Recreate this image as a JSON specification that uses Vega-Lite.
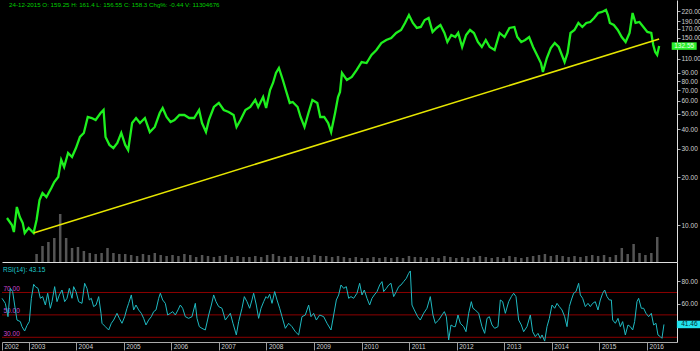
{
"$schema": "https://vega.github.io/schema/vega-lite/v6.json",
"background": "black",
"padding": 0,
"spacing": 0,
"config": {"view": {"stroke": null}, "font": "Liberation Sans", "axis": {"grid": false, "labelFont": "Liberation Sans", "labelFontSize": 6.5}},
"datasets": {
"price": [
{"t":2002.443,"close":11.06},{"t":2002.548,"close":10.0},{"t":2002.590,"close":9.04},{"t":2002.653,"close":12.97},{"t":2002.716,"close":11.22},{"t":2002.779,"close":10.29},{"t":2002.821,"close":8.91},{"t":2002.905,"close":9.58},{"t":2003.010,"close":8.91},{"t":2003.074,"close":10.75},{"t":2003.137,"close":14.35},{"t":2003.200,"close":15.88},{"t":2003.284,"close":14.98},{"t":2003.389,"close":17.07},{"t":2003.452,"close":18.61},{"t":2003.536,"close":20.0},{"t":2003.599,"close":25.6},{"t":2003.662,"close":23.1},{"t":2003.746,"close":28.3},{"t":2003.830,"close":26.7},{"t":2003.914,"close":30.4},{"t":2003.999,"close":35.7},{"t":2004.082,"close":37.8},{"t":2004.166,"close":47.6},{"t":2004.250,"close":46.9},{"t":2004.334,"close":45.6},{"t":2004.440,"close":50.4},{"t":2004.503,"close":52.7},{"t":2004.545,"close":35.7},{"t":2004.629,"close":31.8},{"t":2004.713,"close":30.4},{"t":2004.797,"close":32.7},{"t":2004.881,"close":37.8},{"t":2004.965,"close":31.8},{"t":2005.028,"close":29.5},{"t":2005.112,"close":43.6},{"t":2005.196,"close":46.9},{"t":2005.280,"close":43.6},{"t":2005.385,"close":46.9},{"t":2005.490,"close":38.3},{"t":2005.596,"close":41.2},{"t":2005.701,"close":50.4},{"t":2005.764,"close":54.2},{"t":2005.848,"close":47.6},{"t":2005.932,"close":44.3},{"t":2006.016,"close":45.6},{"t":2006.121,"close":49.0},{"t":2006.226,"close":49.0},{"t":2006.331,"close":46.9},{"t":2006.436,"close":46.9},{"t":2006.541,"close":52.7},{"t":2006.604,"close":43.6},{"t":2006.688,"close":38.3},{"t":2006.751,"close":45.6},{"t":2006.857,"close":55.0},{"t":2006.962,"close":58.3},{"t":2007.067,"close":52.7},{"t":2007.172,"close":51.2},{"t":2007.277,"close":49.0},{"t":2007.340,"close":41.2},{"t":2007.424,"close":45.6},{"t":2007.529,"close":52.7},{"t":2007.634,"close":55.0},{"t":2007.739,"close":60.9},{"t":2007.802,"close":55.0},{"t":2007.907,"close":63.5},{"t":2007.971,"close":54.2},{"t":2008.055,"close":70.3},{"t":2008.118,"close":77.8},{"t":2008.181,"close":89.9},{"t":2008.244,"close":96.6},{"t":2008.328,"close":81.2},{"t":2008.391,"close":70.3},{"t":2008.475,"close":58.3},{"t":2008.538,"close":59.1},{"t":2008.643,"close":55.0},{"t":2008.706,"close":47.6},{"t":2008.790,"close":41.2},{"t":2008.874,"close":50.4},{"t":2008.958,"close":60.9},{"t":2009.063,"close":58.3},{"t":2009.126,"close":47.6},{"t":2009.210,"close":47.6},{"t":2009.295,"close":43.6},{"t":2009.358,"close":38.3},{"t":2009.442,"close":50.4},{"t":2009.505,"close":63.5},{"t":2009.547,"close":68.3},{"t":2009.589,"close":89.9},{"t":2009.694,"close":81.2},{"t":2009.799,"close":84.8},{"t":2009.904,"close":93.9},{"t":2010.009,"close":105.3},{"t":2010.114,"close":103.8},{"t":2010.219,"close":116.6},{"t":2010.324,"close":125.3},{"t":2010.429,"close":138.6},{"t":2010.534,"close":144.7},{"t":2010.640,"close":149.0},{"t":2010.745,"close":160.2},{"t":2010.850,"close":167.3},{"t":2010.934,"close":185.1},{"t":2011.018,"close":207.7},{"t":2011.102,"close":185.1},{"t":2011.186,"close":172.2},{"t":2011.270,"close":174.7},{"t":2011.354,"close":193.2},{"t":2011.438,"close":198.9},{"t":2011.522,"close":162.5},{"t":2011.606,"close":172.2},{"t":2011.690,"close":179.8},{"t":2011.775,"close":160.2},{"t":2011.838,"close":140.7},{"t":2011.922,"close":155.6},{"t":2012.006,"close":151.1},{"t":2012.069,"close":160.2},{"t":2012.153,"close":130.8},{"t":2012.237,"close":155.6},{"t":2012.321,"close":167.3},{"t":2012.405,"close":160.2},{"t":2012.489,"close":140.7},{"t":2012.573,"close":130.8},{"t":2012.657,"close":144.7},{"t":2012.741,"close":130.8},{"t":2012.846,"close":125.3},{"t":2012.952,"close":160.2},{"t":2013.057,"close":151.1},{"t":2013.162,"close":172.2},{"t":2013.267,"close":174.7},{"t":2013.330,"close":151.1},{"t":2013.414,"close":140.7},{"t":2013.498,"close":144.7},{"t":2013.582,"close":151.1},{"t":2013.666,"close":130.8},{"t":2013.750,"close":116.6},{"t":2013.834,"close":103.8},{"t":2013.876,"close":91.2},{"t":2013.960,"close":111.6},{"t":2014.044,"close":129.0},{"t":2014.128,"close":138.6},{"t":2014.213,"close":130.8},{"t":2014.297,"close":113.2},{"t":2014.339,"close":105.3},{"t":2014.402,"close":120.0},{"t":2014.465,"close":160.2},{"t":2014.549,"close":167.3},{"t":2014.633,"close":185.1},{"t":2014.717,"close":174.7},{"t":2014.801,"close":185.1},{"t":2014.885,"close":187.7},{"t":2014.969,"close":198.9},{"t":2015.053,"close":213.8},{"t":2015.137,"close":216.9},{"t":2015.221,"close":223.3},{"t":2015.263,"close":207.7},{"t":2015.305,"close":185.1},{"t":2015.389,"close":179.8},{"t":2015.473,"close":167.3},{"t":2015.557,"close":151.1},{"t":2015.641,"close":140.7},{"t":2015.725,"close":160.2},{"t":2015.789,"close":213.8},{"t":2015.852,"close":185.1},{"t":2015.936,"close":187.7},{"t":2016.020,"close":174.7},{"t":2016.104,"close":162.5},{"t":2016.188,"close":160.2},{"t":2016.230,"close":134.7},{"t":2016.272,"close":121.7},{"t":2016.314,"close":116.6},{"t":2016.356,"close":132.55}
],
"trend": [{"t":2003.010,"close":8.91},{"t":2016.356,"close":146.9}],
"vol": [
{"t":2003.074,"vol":16},{"t":2003.200,"vol":32},{"t":2003.326,"vol":40},{"t":2003.452,"vol":48},{"t":2003.578,"vol":96},{"t":2003.705,"vol":48},{"t":2003.831,"vol":28},{"t":2003.957,"vol":30},{"t":2004.083,"vol":22},{"t":2004.209,"vol":18},{"t":2004.335,"vol":16},{"t":2004.461,"vol":18},{"t":2004.587,"vol":28},{"t":2004.713,"vol":18},{"t":2004.839,"vol":16},{"t":2004.965,"vol":16},{"t":2005.092,"vol":14},{"t":2005.218,"vol":12},{"t":2005.344,"vol":16},{"t":2005.470,"vol":14},{"t":2005.596,"vol":18},{"t":2005.722,"vol":14},{"t":2005.848,"vol":12},{"t":2005.974,"vol":14},{"t":2006.100,"vol":12},{"t":2006.227,"vol":16},{"t":2006.353,"vol":14},{"t":2006.479,"vol":10},{"t":2006.605,"vol":14},{"t":2006.731,"vol":12},{"t":2006.857,"vol":10},{"t":2006.983,"vol":12},{"t":2007.109,"vol":14},{"t":2007.235,"vol":10},{"t":2007.361,"vol":12},{"t":2007.488,"vol":10},{"t":2007.614,"vol":10},{"t":2007.740,"vol":12},{"t":2007.866,"vol":10},{"t":2007.992,"vol":14},{"t":2008.118,"vol":16},{"t":2008.244,"vol":12},{"t":2008.370,"vol":10},{"t":2008.496,"vol":12},{"t":2008.623,"vol":10},{"t":2008.749,"vol":12},{"t":2008.875,"vol":10},{"t":2009.001,"vol":14},{"t":2009.127,"vol":12},{"t":2009.253,"vol":12},{"t":2009.379,"vol":10},{"t":2009.505,"vol":12},{"t":2009.631,"vol":10},{"t":2009.757,"vol":8},{"t":2009.884,"vol":10},{"t":2010.010,"vol":8},{"t":2010.136,"vol":8},{"t":2010.262,"vol":10},{"t":2010.388,"vol":8},{"t":2010.514,"vol":10},{"t":2010.640,"vol":8},{"t":2010.766,"vol":10},{"t":2010.892,"vol":8},{"t":2011.019,"vol":12},{"t":2011.145,"vol":10},{"t":2011.271,"vol":10},{"t":2011.397,"vol":8},{"t":2011.523,"vol":10},{"t":2011.649,"vol":8},{"t":2011.775,"vol":12},{"t":2011.901,"vol":10},{"t":2012.027,"vol":8},{"t":2012.154,"vol":10},{"t":2012.280,"vol":8},{"t":2012.406,"vol":10},{"t":2012.532,"vol":12},{"t":2012.658,"vol":10},{"t":2012.784,"vol":8},{"t":2012.910,"vol":10},{"t":2013.036,"vol":8},{"t":2013.162,"vol":12},{"t":2013.289,"vol":10},{"t":2013.415,"vol":8},{"t":2013.541,"vol":10},{"t":2013.667,"vol":12},{"t":2013.793,"vol":14},{"t":2013.919,"vol":16},{"t":2014.045,"vol":12},{"t":2014.171,"vol":14},{"t":2014.297,"vol":12},{"t":2014.424,"vol":10},{"t":2014.550,"vol":12},{"t":2014.676,"vol":10},{"t":2014.802,"vol":12},{"t":2014.928,"vol":14},{"t":2015.054,"vol":12},{"t":2015.180,"vol":14},{"t":2015.306,"vol":10},{"t":2015.432,"vol":14},{"t":2015.559,"vol":28},{"t":2015.685,"vol":16},{"t":2015.811,"vol":36},{"t":2015.937,"vol":18},{"t":2016.063,"vol":14},{"t":2016.189,"vol":18},{"t":2016.315,"vol":50}
],
"rsi": [
{"t":2002.443,"rsi":64.8},{"t":2002.513,"rsi":60.3},{"t":2002.569,"rsi":48.4},{"t":2002.618,"rsi":73.7},{"t":2002.667,"rsi":70.8},{"t":2002.709,"rsi":58.8},{"t":2002.758,"rsi":45.4},{"t":2002.828,"rsi":44.0},{"t":2002.863,"rsi":39.5},{"t":2002.919,"rsi":35.6},{"t":2002.968,"rsi":40.5},{"t":2003.017,"rsi":44.0},{"t":2003.060,"rsi":64.8},{"t":2003.109,"rsi":77.3},{"t":2003.144,"rsi":75.2},{"t":2003.200,"rsi":73.7},{"t":2003.249,"rsi":64.8},{"t":2003.298,"rsi":66.3},{"t":2003.354,"rsi":58.8},{"t":2003.403,"rsi":69.3},{"t":2003.459,"rsi":55.9},{"t":2003.494,"rsi":61.8},{"t":2003.550,"rsi":75.2},{"t":2003.599,"rsi":61.8},{"t":2003.648,"rsi":67.8},{"t":2003.704,"rsi":72.2},{"t":2003.760,"rsi":61.8},{"t":2003.809,"rsi":64.8},{"t":2003.858,"rsi":73.7},{"t":2003.914,"rsi":64.8},{"t":2003.949,"rsi":75.2},{"t":2003.998,"rsi":70.8},{"t":2004.054,"rsi":61.8},{"t":2004.124,"rsi":60.3},{"t":2004.180,"rsi":78.2},{"t":2004.229,"rsi":73.7},{"t":2004.278,"rsi":63.3},{"t":2004.320,"rsi":64.8},{"t":2004.369,"rsi":57.4},{"t":2004.419,"rsi":58.8},{"t":2004.475,"rsi":66.3},{"t":2004.524,"rsi":51.4},{"t":2004.545,"rsi":42.5},{"t":2004.615,"rsi":39.5},{"t":2004.685,"rsi":36.5},{"t":2004.741,"rsi":42.5},{"t":2004.790,"rsi":45.4},{"t":2004.860,"rsi":51.4},{"t":2004.909,"rsi":46.9},{"t":2004.965,"rsi":42.5},{"t":2005.021,"rsi":48.4},{"t":2005.070,"rsi":55.9},{"t":2005.105,"rsi":60.3},{"t":2005.161,"rsi":67.8},{"t":2005.210,"rsi":54.4},{"t":2005.259,"rsi":58.8},{"t":2005.315,"rsi":54.4},{"t":2005.371,"rsi":51.4},{"t":2005.420,"rsi":46.9},{"t":2005.469,"rsi":41.0},{"t":2005.525,"rsi":45.4},{"t":2005.581,"rsi":48.4},{"t":2005.631,"rsi":52.9},{"t":2005.680,"rsi":54.4},{"t":2005.736,"rsi":64.8},{"t":2005.771,"rsi":69.3},{"t":2005.820,"rsi":63.3},{"t":2005.876,"rsi":60.3},{"t":2005.925,"rsi":49.9},{"t":2005.981,"rsi":51.4},{"t":2006.030,"rsi":52.9},{"t":2006.086,"rsi":49.9},{"t":2006.142,"rsi":54.4},{"t":2006.191,"rsi":58.8},{"t":2006.240,"rsi":55.9},{"t":2006.296,"rsi":48.4},{"t":2006.366,"rsi":46.9},{"t":2006.436,"rsi":48.4},{"t":2006.506,"rsi":60.3},{"t":2006.541,"rsi":46.9},{"t":2006.590,"rsi":39.5},{"t":2006.646,"rsi":38.0},{"t":2006.716,"rsi":36.5},{"t":2006.787,"rsi":49.9},{"t":2006.843,"rsi":58.8},{"t":2006.892,"rsi":67.8},{"t":2006.941,"rsi":61.8},{"t":2006.997,"rsi":57.4},{"t":2007.067,"rsi":55.9},{"t":2007.137,"rsi":45.4},{"t":2007.242,"rsi":51.4},{"t":2007.298,"rsi":42.5},{"t":2007.368,"rsi":32.1},{"t":2007.417,"rsi":44.0},{"t":2007.487,"rsi":55.9},{"t":2007.536,"rsi":66.3},{"t":2007.592,"rsi":61.8},{"t":2007.648,"rsi":55.9},{"t":2007.697,"rsi":63.3},{"t":2007.732,"rsi":69.3},{"t":2007.788,"rsi":58.8},{"t":2007.837,"rsi":46.9},{"t":2007.887,"rsi":55.9},{"t":2007.943,"rsi":61.8},{"t":2007.992,"rsi":66.3},{"t":2008.027,"rsi":64.8},{"t":2008.069,"rsi":68.4},{"t":2008.118,"rsi":60.3},{"t":2008.174,"rsi":70.8},{"t":2008.223,"rsi":63.3},{"t":2008.279,"rsi":55.9},{"t":2008.328,"rsi":48.4},{"t":2008.398,"rsi":38.0},{"t":2008.468,"rsi":42.5},{"t":2008.538,"rsi":39.5},{"t":2008.608,"rsi":35.0},{"t":2008.678,"rsi":32.1},{"t":2008.748,"rsi":48.4},{"t":2008.818,"rsi":49.9},{"t":2008.888,"rsi":58.8},{"t":2008.937,"rsi":48.4},{"t":2008.993,"rsi":51.4},{"t":2009.050,"rsi":45.4},{"t":2009.120,"rsi":49.9},{"t":2009.204,"rsi":48.4},{"t":2009.274,"rsi":42.5},{"t":2009.358,"rsi":36.5},{"t":2009.414,"rsi":49.9},{"t":2009.470,"rsi":63.3},{"t":2009.519,"rsi":67.8},{"t":2009.568,"rsi":76.7},{"t":2009.624,"rsi":73.7},{"t":2009.680,"rsi":75.2},{"t":2009.729,"rsi":64.8},{"t":2009.778,"rsi":66.3},{"t":2009.834,"rsi":64.8},{"t":2009.904,"rsi":69.3},{"t":2009.960,"rsi":78.2},{"t":2010.009,"rsi":67.8},{"t":2010.058,"rsi":72.2},{"t":2010.114,"rsi":64.8},{"t":2010.170,"rsi":58.8},{"t":2010.219,"rsi":64.8},{"t":2010.268,"rsi":67.8},{"t":2010.325,"rsi":70.8},{"t":2010.381,"rsi":76.7},{"t":2010.430,"rsi":79.7},{"t":2010.465,"rsi":70.8},{"t":2010.521,"rsi":73.7},{"t":2010.570,"rsi":76.7},{"t":2010.619,"rsi":78.2},{"t":2010.675,"rsi":66.3},{"t":2010.731,"rsi":70.8},{"t":2010.780,"rsi":75.2},{"t":2010.829,"rsi":76.7},{"t":2010.885,"rsi":79.7},{"t":2010.941,"rsi":82.6},{"t":2010.990,"rsi":87.1},{"t":2011.025,"rsi":89.2},{"t":2011.060,"rsi":58.8},{"t":2011.109,"rsi":54.4},{"t":2011.179,"rsi":48.4},{"t":2011.235,"rsi":45.4},{"t":2011.305,"rsi":51.4},{"t":2011.375,"rsi":55.9},{"t":2011.445,"rsi":66.3},{"t":2011.501,"rsi":49.9},{"t":2011.550,"rsi":42.5},{"t":2011.621,"rsi":45.4},{"t":2011.691,"rsi":49.9},{"t":2011.740,"rsi":52.9},{"t":2011.782,"rsi":48.4},{"t":2011.831,"rsi":27.6},{"t":2011.880,"rsi":41.0},{"t":2011.936,"rsi":39.5},{"t":2011.971,"rsi":39.5},{"t":2012.027,"rsi":49.9},{"t":2012.076,"rsi":42.5},{"t":2012.146,"rsi":39.5},{"t":2012.195,"rsi":35.0},{"t":2012.251,"rsi":51.4},{"t":2012.307,"rsi":61.8},{"t":2012.342,"rsi":55.9},{"t":2012.391,"rsi":54.4},{"t":2012.461,"rsi":51.4},{"t":2012.531,"rsi":39.5},{"t":2012.588,"rsi":33.5},{"t":2012.637,"rsi":46.9},{"t":2012.686,"rsi":48.4},{"t":2012.742,"rsi":41.0},{"t":2012.798,"rsi":38.0},{"t":2012.868,"rsi":39.5},{"t":2012.917,"rsi":63.3},{"t":2012.966,"rsi":61.8},{"t":2013.022,"rsi":51.4},{"t":2013.092,"rsi":61.8},{"t":2013.148,"rsi":66.3},{"t":2013.197,"rsi":69.3},{"t":2013.246,"rsi":66.3},{"t":2013.302,"rsi":45.4},{"t":2013.358,"rsi":41.0},{"t":2013.407,"rsi":35.0},{"t":2013.477,"rsi":39.5},{"t":2013.547,"rsi":49.9},{"t":2013.596,"rsi":35.0},{"t":2013.652,"rsi":30.6},{"t":2013.708,"rsi":33.5},{"t":2013.758,"rsi":29.1},{"t":2013.793,"rsi":32.1},{"t":2013.849,"rsi":26.6},{"t":2013.898,"rsi":39.5},{"t":2013.947,"rsi":46.9},{"t":2014.003,"rsi":58.8},{"t":2014.059,"rsi":55.9},{"t":2014.108,"rsi":60.3},{"t":2014.157,"rsi":57.4},{"t":2014.213,"rsi":54.4},{"t":2014.269,"rsi":48.4},{"t":2014.318,"rsi":39.5},{"t":2014.367,"rsi":57.4},{"t":2014.409,"rsi":63.3},{"t":2014.458,"rsi":69.3},{"t":2014.507,"rsi":70.8},{"t":2014.563,"rsi":78.2},{"t":2014.598,"rsi":67.8},{"t":2014.647,"rsi":64.8},{"t":2014.703,"rsi":57.4},{"t":2014.759,"rsi":60.3},{"t":2014.808,"rsi":57.4},{"t":2014.857,"rsi":60.3},{"t":2014.913,"rsi":61.8},{"t":2014.969,"rsi":54.4},{"t":2015.018,"rsi":63.3},{"t":2015.068,"rsi":69.3},{"t":2015.110,"rsi":72.2},{"t":2015.159,"rsi":66.3},{"t":2015.208,"rsi":63.3},{"t":2015.250,"rsi":63.3},{"t":2015.278,"rsi":45.4},{"t":2015.334,"rsi":42.5},{"t":2015.390,"rsi":46.9},{"t":2015.439,"rsi":39.5},{"t":2015.488,"rsi":44.0},{"t":2015.544,"rsi":32.1},{"t":2015.600,"rsi":41.0},{"t":2015.649,"rsi":39.5},{"t":2015.698,"rsi":36.5},{"t":2015.740,"rsi":44.0},{"t":2015.789,"rsi":61.8},{"t":2015.824,"rsi":64.8},{"t":2015.880,"rsi":55.9},{"t":2015.929,"rsi":55.9},{"t":2015.978,"rsi":51.4},{"t":2016.034,"rsi":48.4},{"t":2016.090,"rsi":51.4},{"t":2016.139,"rsi":41.0},{"t":2016.188,"rsi":42.5},{"t":2016.230,"rsi":32.1},{"t":2016.279,"rsi":30.6},{"t":2016.314,"rsi":29.1},{"t":2016.356,"rsi":41.46}
],
"levels": [{"level":70},{"level":50},{"level":30}],
"lastPrice": [{"close":132.55,"label":"132.55"}],
"lastRsi": [{"rsi":41.46,"label":"41.46"}],
"header": [{"text":"24-12-2015  O: 159.25  H: 161.4  L: 156.55  C: 158.3  Chg%: -0.44  V: 11304676"}],
"rsiHeader": [{"text":"RSI(14):  43.15"}]
},
"vconcat": [
{
"width": 675,
"height": 262,
"layer": [
{
"data": {"name": "vol"},
"mark": {"type": "bar", "width": 2.5, "color": "#555555"},
"encoding": {
"x": {"field": "t", "type": "quantitative", "scale": {"domain": [2002.443, 2016.63], "nice": false, "zero": false}, "axis": {"title": null, "labels": false, "ticks": false, "domainColor": "#e0e0e0", "domainWidth": 1}},
"y": {"field": "vol", "type": "quantitative", "scale": {"domain": [0, 524], "nice": false}, "axis": null}
}
},
{
"layer": [
{
"data": {"name": "price"},
"mark": {"type": "line", "color": "#1ef01e", "strokeWidth": 2.3},
"encoding": {
"x": {"field": "t", "type": "quantitative", "title": null},
"y": {"field": "close", "type": "quantitative", "scale": {"type": "log", "domain": [5.861, 257.9], "nice": false}, "axis": {"orient": "right", "title": null, "values": [10,20,30,40,50,60,70,80,90,110,150,170,190,220], "format": ".2f", "tickSize": 3, "tickColor": "#b0b0b0", "domainColor": "#e0e0e0", "labelColor": "#d0d0d0", "labelPadding": 1}}
}
},
{
"data": {"name": "trend"},
"mark": {"type": "line", "color": "#e6e600", "strokeWidth": 1.5},
"encoding": {
"x": {"field": "t", "type": "quantitative", "title": null},
"y": {"field": "close", "type": "quantitative", "title": null}
}
},
{
"data": {"name": "lastPrice"},
"mark": {"type": "point", "shape": "M -1 -0.3 H 1 V 0.3 H -1 Z", "size": 625, "filled": true, "opacity": 1, "color": "#2cf02c"},
"encoding": {
"x": {"datum": 2016.89, "type": "quantitative", "title": null},
"y": {"field": "close", "type": "quantitative", "title": null}
}
},
{
"data": {"name": "lastPrice"},
"mark": {"type": "text", "align": "center", "baseline": "middle", "fontSize": 6.5, "color": "#eaffea"},
"encoding": {
"x": {"datum": 2016.89, "type": "quantitative", "title": null},
"y": {"field": "close", "type": "quantitative", "title": null},
"text": {"field": "label"}
}
},
{
"data": {"name": "header"},
"mark": {"type": "text", "align": "left", "baseline": "top", "dx": 2, "dy": 2, "fontSize": 6.2, "color": "#00cc00"},
"encoding": {
"x": {"datum": 2002.443, "type": "quantitative", "title": null},
"y": {"datum": 257.9, "type": "quantitative", "title": null},
"text": {"field": "text"}
}
}
]
}
],
"resolve": {"scale": {"y": "independent"}}
},
{
"width": 675,
"height": 80,
"layer": [
{
"data": {"name": "levels"},
"mark": {"type": "rule", "color": "#8c0000", "strokeWidth": 1},
"encoding": {
"y": {"field": "level", "type": "quantitative", "scale": {"domain": [25.8, 97.2], "nice": false, "zero": false}, "axis": {"orient": "left", "title": null, "values": [30,50,70], "format": ".2f", "domain": false, "ticks": false, "labelAlign": "left", "labelPadding": -1, "labelBaseline": "alphabetic", "labelOffset": -2, "labelColor": "#cc44cc"}}
}
},
{
"data": {"name": "rsi"},
"mark": {"type": "line", "color": "#1fb9c1", "strokeWidth": 1},
"encoding": {
"x": {"field": "t", "type": "quantitative", "scale": {"domain": [2002.443, 2016.63], "nice": false, "zero": false}, "axis": {"title": null, "values": [2002.443,2003,2004,2005,2006,2007,2008,2009,2010,2011,2012,2013,2014,2015,2016], "format": "d", "labelAlign": "left", "labelBaseline": "top", "labelOffset": 2, "labelPadding": -7, "tickSize": 8, "tickColor": "#9a9a9a", "domainColor": "#aaaaaa", "labelColor": "#cfcfcf", "labelFlush": false, "labelOverlap": false}},
"y": {"field": "rsi", "type": "quantitative", "axis": {"orient": "right", "title": null, "values": [60,80], "format": ".2f", "tickSize": 3, "tickColor": "#b0b0b0", "domainColor": "#e0e0e0", "labelColor": "#d0d0d0", "labelPadding": 1}}
}
},
{
"data": {"name": "lastRsi"},
"mark": {"type": "point", "shape": "M -1 -0.3 H 1 V 0.3 H -1 Z", "size": 625, "filled": true, "opacity": 1, "color": "#22e3ee"},
"encoding": {
"x": {"datum": 2016.89, "type": "quantitative"},
"y": {"field": "rsi", "type": "quantitative", "axis": null}
}
},
{
"data": {"name": "lastRsi"},
"mark": {"type": "text", "align": "center", "baseline": "middle", "fontSize": 6.5, "color": "#002a33"},
"encoding": {
"x": {"datum": 2016.89, "type": "quantitative"},
"y": {"field": "rsi", "type": "quantitative", "axis": null},
"text": {"field": "label"}
}
},
{
"data": {"name": "rsiHeader"},
"mark": {"type": "text", "align": "left", "baseline": "top", "dx": 1, "dy": 4.5, "fontSize": 6.5, "color": "#1fc8cc"},
"encoding": {
"x": {"datum": 2002.443, "type": "quantitative"},
"y": {"datum": 97.2, "type": "quantitative", "axis": null},
"text": {"field": "text"}
}
}
],
"resolve": {"axis": {"y": "independent"}}
}
]
}
